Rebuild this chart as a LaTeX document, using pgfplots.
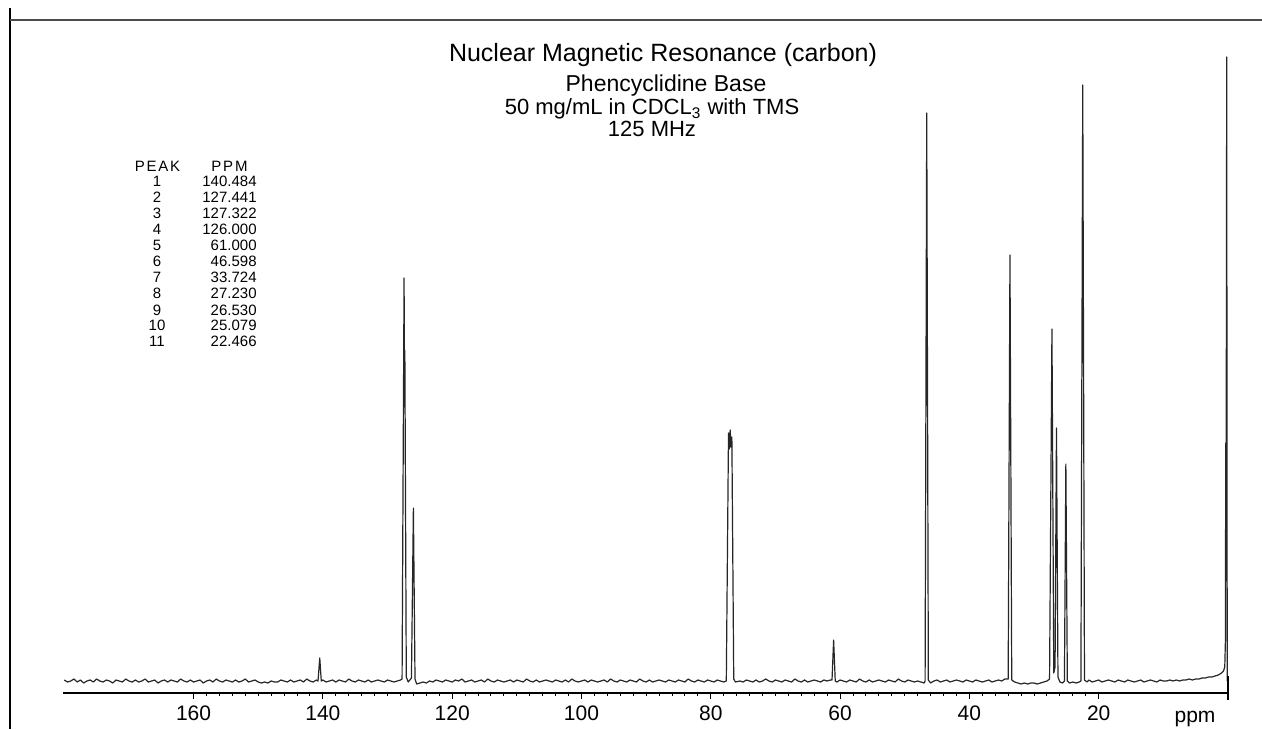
\documentclass[border=0pt]{standalone}
\usepackage{pgfplots}
\pgfplotsset{compat=1.18}
\usepackage{pgfplotstable}
\usepackage{fontspec}
\setmainfont{Liberation Sans}
\newfontfamily\widefont[LetterSpace=12]{Liberation Sans}

% 13C NMR spectrum (ppm, intensity), baseline = 0
\pgfplotstableread[row sep=\\]{
x y\\
180 1\\ 179.5 -1\\ 179 0\\ 178.5 2\\ 178 -1\\ 177.5 1\\ 177 -2\\ 176.5 0\\ 176 1\\ 175.5 -1\\
175 2\\ 174.5 0\\ 174 -1\\ 173.5 1\\ 173 0\\ 172.5 -2\\ 172 1\\ 171.5 0\\ 171 -1\\ 170.5 2\\
170 0\\ 169.5 -1\\ 169 1\\ 168.5 -1\\ 168 0\\ 167.5 2\\ 167 -1\\ 166.5 0\\ 166 1\\ 165.5 -2\\
165 0\\ 164.5 1\\ 164 -1\\ 163.5 1\\ 163 0\\ 162.5 -1\\ 162 2\\ 161.5 0\\ 161 -1\\ 160.5 1\\
160 -1\\ 159.5 0\\ 159 1\\ 158.5 -2\\ 158 0\\ 157.5 1\\ 157 -1\\ 156.5 2\\ 156 0\\ 155.5 -1\\
155 1\\ 154.5 0\\ 154 -1\\ 153.5 1\\ 153 -1\\ 152.5 0\\ 152 2\\ 151.5 -1\\ 151 0\\ 150.5 1\\
150 -1\\ 149.5 -2\\ 149 -1\\ 148.5 -2\\ 148 0\\ 147.5 -1\\ 147 -1\\ 146.5 1\\ 146 0\\ 145.5 -1\\
145 1\\ 144.5 -1\\ 144 0\\ 143.5 1\\ 143 -1\\ 142.5 2\\ 142 0\\ 141.5 -1\\ 141 1\\
140.75 0\\ 140.484 23\\ 140.25 0\\ 140 1\\
139.5 -1\\ 139 0\\ 138.5 1\\ 138 -1\\ 137.5 1\\ 137 0\\ 136.5 -1\\ 136 2\\ 135.5 0\\ 135 -1\\
134.5 1\\ 134 0\\ 133.5 -1\\ 133 1\\ 132.5 -1\\ 132 0\\ 131.5 1\\ 131 0\\ 130.5 -1\\ 130 1\\
129.5 0\\ 129 -1\\ 128.5 0\\ 128 1\\
127.75 2\\ 127.441 403\\ 127.38 300\\ 127.322 331\\ 127.1 4\\ 126.8 -1\\ 126.3 3\\ 126.0 173\\ 125.75 2\\
125.5 -3\\ 125 -2\\ 124.5 -1\\ 124 -2\\ 123.5 0\\ 123 -1\\ 122.5 1\\ 122 0\\ 121.5 -1\\ 121 1\\
120.5 0\\ 120 -1\\ 119.5 1\\ 119 0\\ 118.5 2\\ 118 -1\\ 117.5 0\\ 117 1\\ 116.5 -1\\ 116 0\\
115.5 1\\ 115 -1\\ 114.5 2\\ 114 0\\ 113.5 -1\\ 113 1\\ 112.5 0\\ 112 -1\\ 111.5 0\\ 111 1\\
110.5 -1\\ 110 1\\ 109.5 0\\ 109 -1\\ 108.5 2\\ 108 0\\ 107.5 -1\\ 107 1\\ 106.5 -1\\ 106 0\\
105.5 1\\ 105 0\\ 104.5 -1\\ 104 1\\ 103.5 0\\ 103 -1\\ 102.5 1\\ 102 -1\\ 101.5 2\\ 101 0\\
100.5 -1\\ 100 0\\ 99.5 1\\ 99 -1\\ 98.5 1\\ 98 0\\ 97.5 -1\\ 97 0\\ 96.5 1\\ 96 -1\\
95.5 2\\ 95 0\\ 94.5 -1\\ 94 1\\ 93.5 0\\ 93 -1\\ 92.5 1\\ 92 0\\ 91.5 -1\\ 91 2\\
90.5 0\\ 90 -1\\ 89.5 1\\ 89 -1\\ 88.5 0\\ 88 1\\ 87.5 0\\ 87 -1\\ 86.5 1\\ 86 0\\
85.5 -1\\ 85 1\\ 84.5 0\\ 84 -1\\ 83.5 2\\ 83 0\\ 82.5 -1\\ 82 1\\ 81.5 0\\ 81 -1\\
80.5 1\\ 80 0\\ 79.5 -1\\ 79 1\\ 78.5 0\\ 78 -1\\
77.6 0\\ 77.26 248\\ 77.13 232\\ 77.0 251\\ 76.87 234\\ 76.74 244\\ 76.45 2\\ 76.2 -1\\
75.5 0\\ 75 -1\\ 74.5 1\\ 74 0\\ 73.5 -1\\ 73 1\\ 72.5 -1\\ 72 0\\ 71.5 2\\ 71 0\\
70.5 -1\\ 70 1\\ 69.5 0\\ 69 -1\\ 68.5 1\\ 68 0\\ 67.5 -1\\ 67 2\\ 66.5 0\\ 66 -1\\
65.5 1\\ 65 -1\\ 64.5 0\\ 64 1\\ 63.5 0\\ 63 -1\\ 62.5 1\\ 62 0\\ 61.5 1\\
61.25 1\\ 61.0 41\\ 60.75 0\\
60.5 -1\\ 60 1\\ 59.5 0\\ 59 -1\\ 58.5 1\\ 58 0\\ 57.5 -1\\ 57 2\\ 56.5 0\\ 56 -1\\
55.5 1\\ 55 -1\\ 54.5 0\\ 54 1\\ 53.5 0\\ 53 -1\\ 52.5 1\\ 52 0\\ 51.5 -1\\ 51 2\\
50.5 0\\ 50 -1\\ 49.5 1\\ 49 0\\ 48.5 -1\\ 48 0\\ 47.5 -1\\ 47 -2\\
46.85 0\\ 46.598 568\\ 46.35 1\\ 46.0 -2\\
45.5 0\\ 45 1\\ 44.5 -1\\ 44 0\\ 43.5 1\\ 43 -1\\ 42.5 0\\ 42 1\\ 41.5 0\\ 41 -1\\
40.5 1\\ 40 0\\ 39.5 -1\\ 39 1\\ 38.5 0\\ 38 -1\\ 37.5 0\\ 37 1\\ 36.5 -1\\ 36 0\\
35.5 1\\ 35 0\\ 34.5 2\\
34.0 2\\ 33.724 426\\ 33.45 1\\ 33.0 -1\\
32.5 -2\\ 32 -3\\ 31.5 -2\\ 31 -3\\ 30.5 -2\\ 30 -2\\ 29.5 -3\\ 29 -2\\ 28.5 -1\\ 28 0\\
27.6 2\\ 27.23 352\\ 26.95 8\\ 26.75 14\\ 26.53 253\\ 26.3 4\\ 26.0 -1\\ 25.6 -2\\ 25.3 0\\
25.079 217\\ 24.85 0\\ 24.5 -2\\ 24.0 -1\\ 23.5 -2\\ 23.0 -1\\ 22.75 0\\ 22.466 596\\ 22.2 1\\ 21.8 -1\\
21.5 1\\ 21 -1\\ 20.5 0\\ 20 1\\ 19.5 -1\\ 19 0\\ 18.5 1\\ 18 0\\ 17.5 -1\\ 17 1\\
16.5 0\\ 16 -1\\ 15.5 1\\ 15 0\\ 14.5 -1\\ 14 0\\ 13.5 1\\ 13 -1\\ 12.5 0\\ 12 1\\
11.5 0\\ 11 -1\\ 10.5 1\\ 10 0\\ 9.5 0\\ 9 1\\ 8.5 0\\ 8 1\\ 7.5 0\\ 7 1\\
6.5 1\\ 6 2\\ 5.5 1\\ 5 2\\ 4.5 2\\ 4 3\\ 3.5 3\\ 3 4\\ 2.5 4\\ 2 5\\ 1.5 6\\ 1 8\\
0.7 10\\ 0.5 14\\ 0.4 40\\ 0.35 238\\ 0.3 100\\ 0.2 624\\ 0.12 0\\
}\spectrum

\begin{document}
\begin{tikzpicture}
\useasboundingbox (0,0) rectangle (631pt,364.5pt);
\begin{axis}[
  at={(31.5pt,18pt)}, anchor=south west,
  scale only axis, width=582.5pt, height=336.5pt,
  x dir=reverse, xmin=0, xmax=180.2,
  ymin=-12, ymax=661,
  axis x line=bottom, axis y line=none,
  axis line style={-, line width=0.8pt, black},
  xtick={20,40,...,160},
  minor x tick num=9,
  tick align=outside,
  major tick length=3pt, minor tick length=1.6pt,
  every tick/.style={black, line width=0.5pt},
  ytick=\empty,
  /pgf/number format/assume math mode=true,
  xticklabel style={font=\fontsize{10.5}{12}\selectfont, anchor=base, yshift=-10.5pt},
  clip=false,
]
\addplot[black!85, line width=0.6pt, line join=round] table[x=x, y=y] {\spectrum};
\end{axis}
\begin{scope}[x=0.5pt, y=-0.5pt, shift={(0,364.5pt)}]
  % frame
  \draw[black, line width=1pt] (10,8) -- (10,729);
  \draw[black!70, line width=1pt] (10,20) -- (1262,20);
  % right end stub of the axis
  \draw[black, line width=0.8pt] (1228,676) -- (1228,700);
  % x label
  \node[anchor=base, font=\fontsize{10.5}{12}\selectfont, inner sep=0pt] at (1195,722) {ppm};
  % titles
  \node[anchor=base, font=\fontsize{12.5}{14}\selectfont, inner sep=0pt] at (663,62) {Nuclear Magnetic Resonance (carbon)};
  \node[anchor=base, font=\fontsize{11.5}{13}\selectfont, inner sep=0pt] at (666,92) {Phencyclidine Base};
  \node[anchor=base, font=\fontsize{11}{13}\selectfont, inner sep=0pt] at (652,115) {50 mg/mL in CDCL\textsubscript{3} with TMS};
  \node[anchor=base, font=\fontsize{11}{13}\selectfont, inner sep=0pt] at (652,137) {125 MHz};
  % peak table
  \node[anchor=base, font=\widefont\fontsize{7.5}{9}\selectfont, inner sep=0pt] at (157.5,172) {PEAK};
  \node[anchor=base, font=\widefont\fontsize{7.5}{9}\selectfont, inner sep=0pt] at (229.5,172) {PPM};
  \foreach \i/\v in {1/140.484,2/127.441,3/127.322,4/126.000,5/61.000,6/46.598,7/33.724,8/27.230,9/26.530,10/25.079,11/22.466} {
    \node[anchor=base, font=\fontsize{7.5}{9}\selectfont, inner sep=0pt] at (157,{187+16*(\i-1)}) {\i};
    \node[anchor=base east, font=\fontsize{7.5}{9}\selectfont, inner sep=0pt] at (257,{187+16*(\i-1)}) {\v};
  }
\end{scope}
\end{tikzpicture}
\end{document}
